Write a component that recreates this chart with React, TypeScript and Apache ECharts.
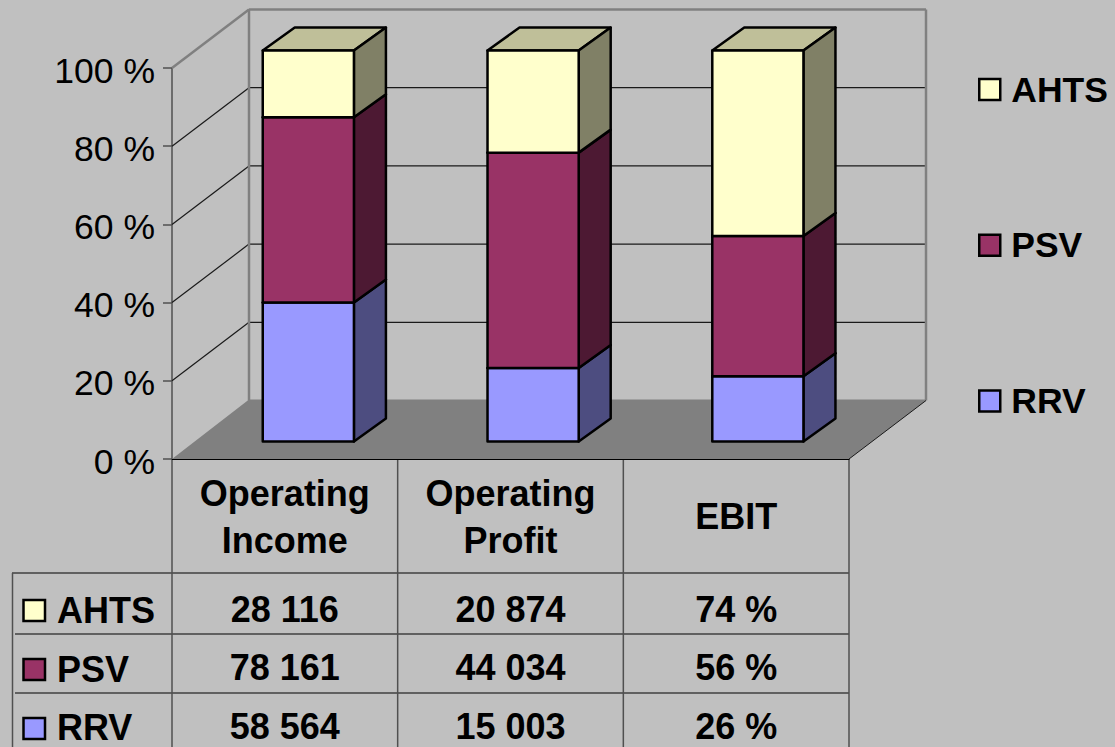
import React, { useEffect, useRef } from "react";
import * as echarts from "echarts";

const categories = ["Operating\nIncome", "Operating\nProfit", "EBIT"];
const seriesNames = ["RRV", "PSV", "AHTS"];
const rrvValues = [58564, 15003, 26];
const psvValues = [78161, 44034, 56];
const ahtsValues = [28116, 20874, 74];
const tableRowNames = ["AHTS", "PSV", "RRV"];
const ahtsCells = ["28 116", "20 874", "74 %"];
const psvCells = ["78 161", "44 034", "56 %"];
const rrvCells = ["58 564", "15 003", "26 %"];
const yTicks = [0, 20, 40, 60, 80, 100];

const FONT = "Liberation Sans";
const BG = "#C0C0C0";
const faces: Record<string, { front: string; side: string; top: string }> = {
  AHTS: { front: "#FFFFCC", side: "#808066", top: "#BFBF99" },
  PSV: { front: "#993366", side: "#4D1933", top: "#73264D" },
  RRV: { front: "#9999FF", side: "#4D4D80", top: "#7373BF" },
};

const G = { left: 172, top: 68, width: 677, height: 391 };
const WALL = { dx: 77, dy: -58.5, floorLift: 1 };
const BAR = { dx: 23.5, dy: -17.5, depthX: 32, depthY: -23, ratio: 0.404, pitchAdjust: -0.9 };

const rowValues = [rrvValues, psvValues, ahtsValues];
const totals = categories.map((_, i) => rowValues.reduce((s, r) => s + r[i], 0));

function stackData(level: number) {
  return categories.map((_, i) => {
    let start = 0;
    for (let k = 0; k < level; k++) start += (rowValues[k][i] / totals[i]) * 100;
    const end = start + (rowValues[level][i] / totals[i]) * 100;
    return [i, start, end];
  });
}

function renderBar(name: string) {
  const c = faces[name];
  return (_: any, api: any) => {
    const i = api.value(0);
    const a = api.coord([i, api.value(1)]);
    const b = api.coord([i, api.value(2)]);
    const w = api.size([1, 0])[0] * BAR.ratio;
    const x0 = a[0] + BAR.dx + i * BAR.pitchAdjust - w / 2;
    const x1 = x0 + w;
    const yb = a[1] + BAR.dy;
    const yt = b[1] + BAR.dy;
    const { depthX: dx, depthY: dy } = BAR;
    const line = { stroke: "#000", lineWidth: 2.5, lineJoin: "round" };
    return {
      type: "group",
      children: [
        { type: "polygon", shape: { points: [[x0, yt], [x1, yt], [x1 + dx, yt + dy], [x0 + dx, yt + dy]] }, style: { fill: c.top, ...line } },
        { type: "polygon", shape: { points: [[x1, yt], [x1 + dx, yt + dy], [x1 + dx, yb + dy], [x1, yb]] }, style: { fill: c.side, ...line } },
        { type: "rect", shape: { x: x0, y: yt, width: w, height: yb - yt }, style: { fill: c.front, ...line } },
      ],
    };
  };
}

function renderWalls(params: any, api: any) {
  const cs = params.coordSys;
  const L = cs.x, R = cs.x + cs.width;
  const y0 = api.coord([0, 0])[1];
  const y100 = api.coord([0, 100])[1];
  const { dx, dy, floorLift } = WALL;
  const gray = { stroke: "#808080", lineWidth: 2.5 };
  const seg = (x1: number, y1: number, x2: number, y2: number, style: any) => ({
    type: "line",
    shape: { x1, y1, x2, y2 },
    style,
  });
  const children: any[] = [
    { type: "polygon", shape: { points: [[L, y0], [R, y0], [R + dx, y0 + dy], [R + dx, y0 + dy - floorLift], [L + dx, y0 + dy - floorLift]] }, style: { fill: "#808080" } },
  ];
  yTicks.slice(1, -1).forEach((t) => {
    const y = api.coord([0, t])[1];
    const st = { stroke: "#1a1a1a", lineWidth: 1.2 };
    children.push(seg(L, y, L + dx, y + dy, st));
    children.push(seg(L + dx, y + dy, R + dx, y + dy, st));
  });
  children.push(seg(L, y100, L + dx, y100 + dy, gray));
  children.push(seg(L + dx, y100 + dy, R + dx, y100 + dy, gray));
  children.push(seg(L + dx, y100 + dy, L + dx, y0 + dy, gray));
  children.push(seg(R + dx, y100 + dy, R + dx, y0 + dy, gray));
  children.push(seg(R, y0, R + dx, y0 + dy, { stroke: "#1a1a1a", lineWidth: 1 }));
  return { type: "group", children };
}

function tableGraphics() {
  const out: any[] = [];
  const colW = G.width / 3;
  const rowLines = [573, 634, 693];
  const rowCenters = [609, 667.5, 726];
  const keyTops = [600, 659, 718];
  const bottom = 747;
  const hLine = (y: number, x1: number, stroke: string, lineWidth: number) => ({
    type: "line", shape: { x1, y1: y, x2: G.left + G.width, y2: y }, style: { stroke, lineWidth },
  });
  out.push(hLine(rowLines[0], 12, "#606060", 2));
  out.push(hLine(rowLines[1], 15, "#000", 1));
  out.push(hLine(rowLines[2], 15, "#000", 1));
  const vLine = (x: number, y1: number) => ({
    type: "line", shape: { x1: x, y1, x2: x, y2: bottom }, style: { stroke: "#505050", lineWidth: 1.5 },
  });
  out.push(vLine(12.5, rowLines[0]));
  for (let i = 0; i <= 3; i++) out.push(vLine(G.left + colW * i, G.top + G.height));
  const cells = [ahtsCells, psvCells, rrvCells];
  tableRowNames.forEach((name, r) => {
    out.push({
      type: "rect",
      shape: { x: 23.5, y: keyTops[r], width: 21.5, height: 21 },
      style: { fill: faces[name].front, stroke: "#000", lineWidth: 2.5 },
    });
    out.push({
      type: "text", x: 57, y: rowCenters[r] + 1.5,
      style: { text: name, fill: "#000", font: `bold 36px "${FONT}"`, textAlign: "left", textVerticalAlign: "middle" },
    });
    cells[r].forEach((t, c) => {
      out.push({
        type: "text", x: G.left + colW * (c + 0.5), y: rowCenters[r],
        style: { text: t, fill: "#000", font: `bold 36px "${FONT}"`, textAlign: "center", textVerticalAlign: "middle" },
      });
    });
  });
  return out;
}

export default function App() {
  const ref = useRef<HTMLDivElement>(null);
  useEffect(() => {
    const chart = echarts.init(ref.current!, undefined, { renderer: "svg" });
    chart.setOption({
      animation: false,
      backgroundColor: BG,
      textStyle: { fontFamily: FONT },
      grid: { ...G },
      legend: {
        orient: "vertical",
        left: 978,
        top: 71.5,
        padding: 0,
        itemWidth: 21,
        itemHeight: 21,
        itemGap: 119.8,
        icon: "rect",
        data: ["AHTS", "PSV", "RRV"],
        itemStyle: { borderColor: "#000", borderWidth: 2.5 },
        textStyle: { fontFamily: FONT, fontWeight: "bold", fontSize: 35.5, color: "#000", padding: [0, 0, 0, 6] },
      },
      xAxis: {
        type: "category",
        data: categories,
        axisTick: { show: false },
        axisLine: { lineStyle: { color: "#000", width: 1 } },
        axisLabel: {
          fontFamily: FONT,
          fontWeight: "bold",
          fontSize: 36,
          color: "#000",
          lineHeight: 47,
          margin: 57.5,
          verticalAlign: "middle",
          interval: 0,
        },
      },
      yAxis: {
        type: "value",
        min: 0,
        max: 100,
        interval: 20,
        axisLine: { show: true, lineStyle: { color: "#505050", width: 1.5 } },
        axisTick: { show: true, length: 9, lineStyle: { color: "#505050", width: 1.5 } },
        splitLine: { show: false },
        axisLabel: {
          formatter: "{t|{value} %}",
          margin: 17,
          rich: { t: { fontFamily: FONT, fontSize: 35.5, color: "#000", padding: [5, 0, 0, 0] } },
        },
      },
      series: [
        {
          type: "custom",
          name: "walls",
          silent: true,
          z: 1,
          clip: false,
          renderItem: renderWalls,
          data: [[0, 0]],
          encode: { x: 0, y: 1 },
        },
        ...seriesNames.map((name, level) => ({
          type: "custom",
          name,
          z: 2,
          clip: false,
          itemStyle: { color: faces[name].front, borderColor: "#000", borderWidth: 2.5 },
          renderItem: renderBar(name),
          data: stackData(level),
          encode: { x: 0, y: [1, 2] },
        })),
      ],
      graphic: tableGraphics(),
    });
    return () => chart.dispose();
  }, []);
  return <div ref={ref} style={{ position: "fixed", left: 0, top: 0, width: 1115, height: 747 }} />;
}
